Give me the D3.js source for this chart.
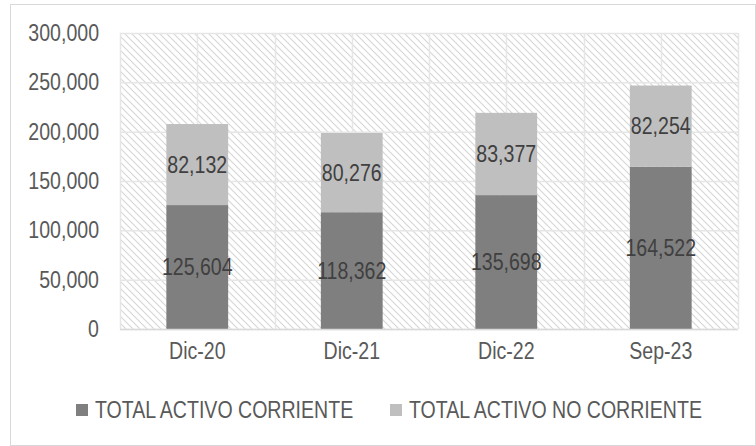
<!DOCTYPE html>
<html><head><meta charset="utf-8">
<script src="https://cdn.jsdelivr.net/npm/d3@7"></script>
<style>
html,body{margin:0;padding:0;background:#fff;}
svg{display:block;}
text{font-family:"Liberation Sans Narrow","Arial Narrow","Liberation Sans",Arial,sans-serif;}
</style></head>
<body>
<script>
const categories = ["Dic-20","Dic-21","Dic-22","Sep-23"];
const corriente = [125604,118362,135698,164522];
const noCorriente = [82132,80276,83377,82254];
const seriesNames = ["TOTAL ACTIVO CORRIENTE","TOTAL ACTIVO NO CORRIENTE"];
const yTicks = [0,50000,100000,150000,200000,250000,300000];

const W=756,H=446;
const m={left:120,right:18,top:33,bottom:117};
const FS=23, NARROW=0.85;
const svg=d3.select("body").append("svg").attr("width",W).attr("height",H);

const defs=svg.append("defs");
const P=7;
const pat=defs.append("pattern").attr("id","hatch").attr("patternUnits","userSpaceOnUse")
  .attr("width",P).attr("height",P);
pat.append("rect").attr("width",P).attr("height",P).attr("fill","#fff");
pat.append("path").attr("d",`M-1,-1 L${P+1},${P+1} M-1,${P-1} L1,${P+1} M${P-1},-1 L${P+1},1`)
  .attr("stroke","#d6d6d6").attr("stroke-width",1.1);

// outer border
svg.append("rect").attr("x",10.5).attr("y",4.5).attr("width",W-11).attr("height",H-5)
  .attr("fill","none").attr("stroke","#d9d9d9").attr("stroke-width",1);

const x=d3.scaleBand().domain(categories).range([m.left,W-m.right]).paddingInner(0).paddingOuter(0);
const y=d3.scaleLinear().domain([0,300000]).range([H-m.bottom,m.top]);
const pw=W-m.right-m.left, ph=H-m.bottom-m.top;

svg.append("rect").attr("x",m.left).attr("y",m.top).attr("width",pw).attr("height",ph).attr("fill","url(#hatch)");

// vertical gridlines every half band
const halfs=[];
categories.forEach(c=>{halfs.push(x(c));halfs.push(x(c)+x.bandwidth()/2);});
halfs.push(W-m.right);
svg.append("g").selectAll("line").data(halfs).join("line")
  .attr("x1",d=>Math.round(d)+0.5).attr("x2",d=>Math.round(d)+0.5)
  .attr("y1",m.top).attr("y2",H-m.bottom).attr("stroke","#e6e6e6").attr("stroke-width",1.5);

// y axis
const yAxis=d3.axisLeft(y).tickValues(yTicks).tickFormat(d3.format(",")).tickSize(-pw).tickPadding(21);
const gy=svg.append("g").attr("transform",`translate(${m.left},0)`).call(yAxis);
gy.select(".domain").remove();
gy.selectAll(".tick line").attr("stroke","#e6e6e6").attr("stroke-width",1.5);
gy.selectAll(".tick text").attr("fill","#595959").attr("font-size",FS).attr("font-family",null);

// bars
const bw=x.bandwidth()*0.4;
const data=categories.map((c,i)=>({c,a:corriente[i],b:noCorriente[i]}));
const g=svg.append("g");
g.selectAll(".b1").data(data).join("rect")
  .attr("x",d=>x(d.c)+x.bandwidth()/2-bw/2).attr("width",bw)
  .attr("y",d=>y(d.a)).attr("height",d=>y(0)-y(d.a)).attr("fill","#7f7f7f");
g.selectAll(".b2").data(data).join("rect")
  .attr("x",d=>x(d.c)+x.bandwidth()/2-bw/2).attr("width",bw)
  .attr("y",d=>y(d.a+d.b)).attr("height",d=>y(d.a)-y(d.a+d.b)).attr("fill","#bfbfbf");

// x axis line
svg.append("line").attr("x1",m.left).attr("x2",W-m.right).attr("y1",y(0)+0.5).attr("y2",y(0)+0.5)
  .attr("stroke","#d9d9d9").attr("stroke-width",1.5);

// labels
const fmt=d3.format(",");
g.selectAll(".l1").data(data).join("text")
  .attr("x",d=>x(d.c)+x.bandwidth()/2).attr("y",d=>(y(0)+y(d.a))/2)
  .attr("dy","0.35em").attr("text-anchor","middle").attr("font-size",FS).attr("fill","#404040")
  .text(d=>fmt(d.a));
g.selectAll(".l2").data(data).join("text")
  .attr("x",d=>x(d.c)+x.bandwidth()/2).attr("y",d=>(y(d.a)+y(d.a+d.b))/2)
  .attr("dy","0.35em").attr("text-anchor","middle").attr("font-size",FS).attr("fill","#404040")
  .text(d=>fmt(d.b));

// x labels
const xAxis=d3.axisBottom(x).tickSize(0).tickPadding(14);
const gx=svg.append("g").attr("transform",`translate(0,${y(0)})`).call(xAxis);
gx.select(".domain").remove();
gx.selectAll(".tick text").attr("fill","#595959").attr("font-size",FS).attr("font-family",null);

// legend
const legX=[76,390], legColors=["#7f7f7f","#bfbfbf"];
const lg=svg.append("g");
seriesNames.forEach((s,i)=>{
  lg.append("rect").attr("x",legX[i]).attr("y",404).attr("width",12).attr("height",12).attr("fill",legColors[i]);
  lg.append("text").attr("x",legX[i]+19).attr("y",410).attr("dy","0.35em").attr("font-size",FS)
    .attr("fill","#595959").text(s);
});

// condense text horizontally (emulate narrow font)
svg.selectAll("text").each(function(){
  const len=this.getComputedTextLength();
  d3.select(this).attr("textLength",len*NARROW).attr("lengthAdjust","spacingAndGlyphs");
});
</script>
</body></html>
